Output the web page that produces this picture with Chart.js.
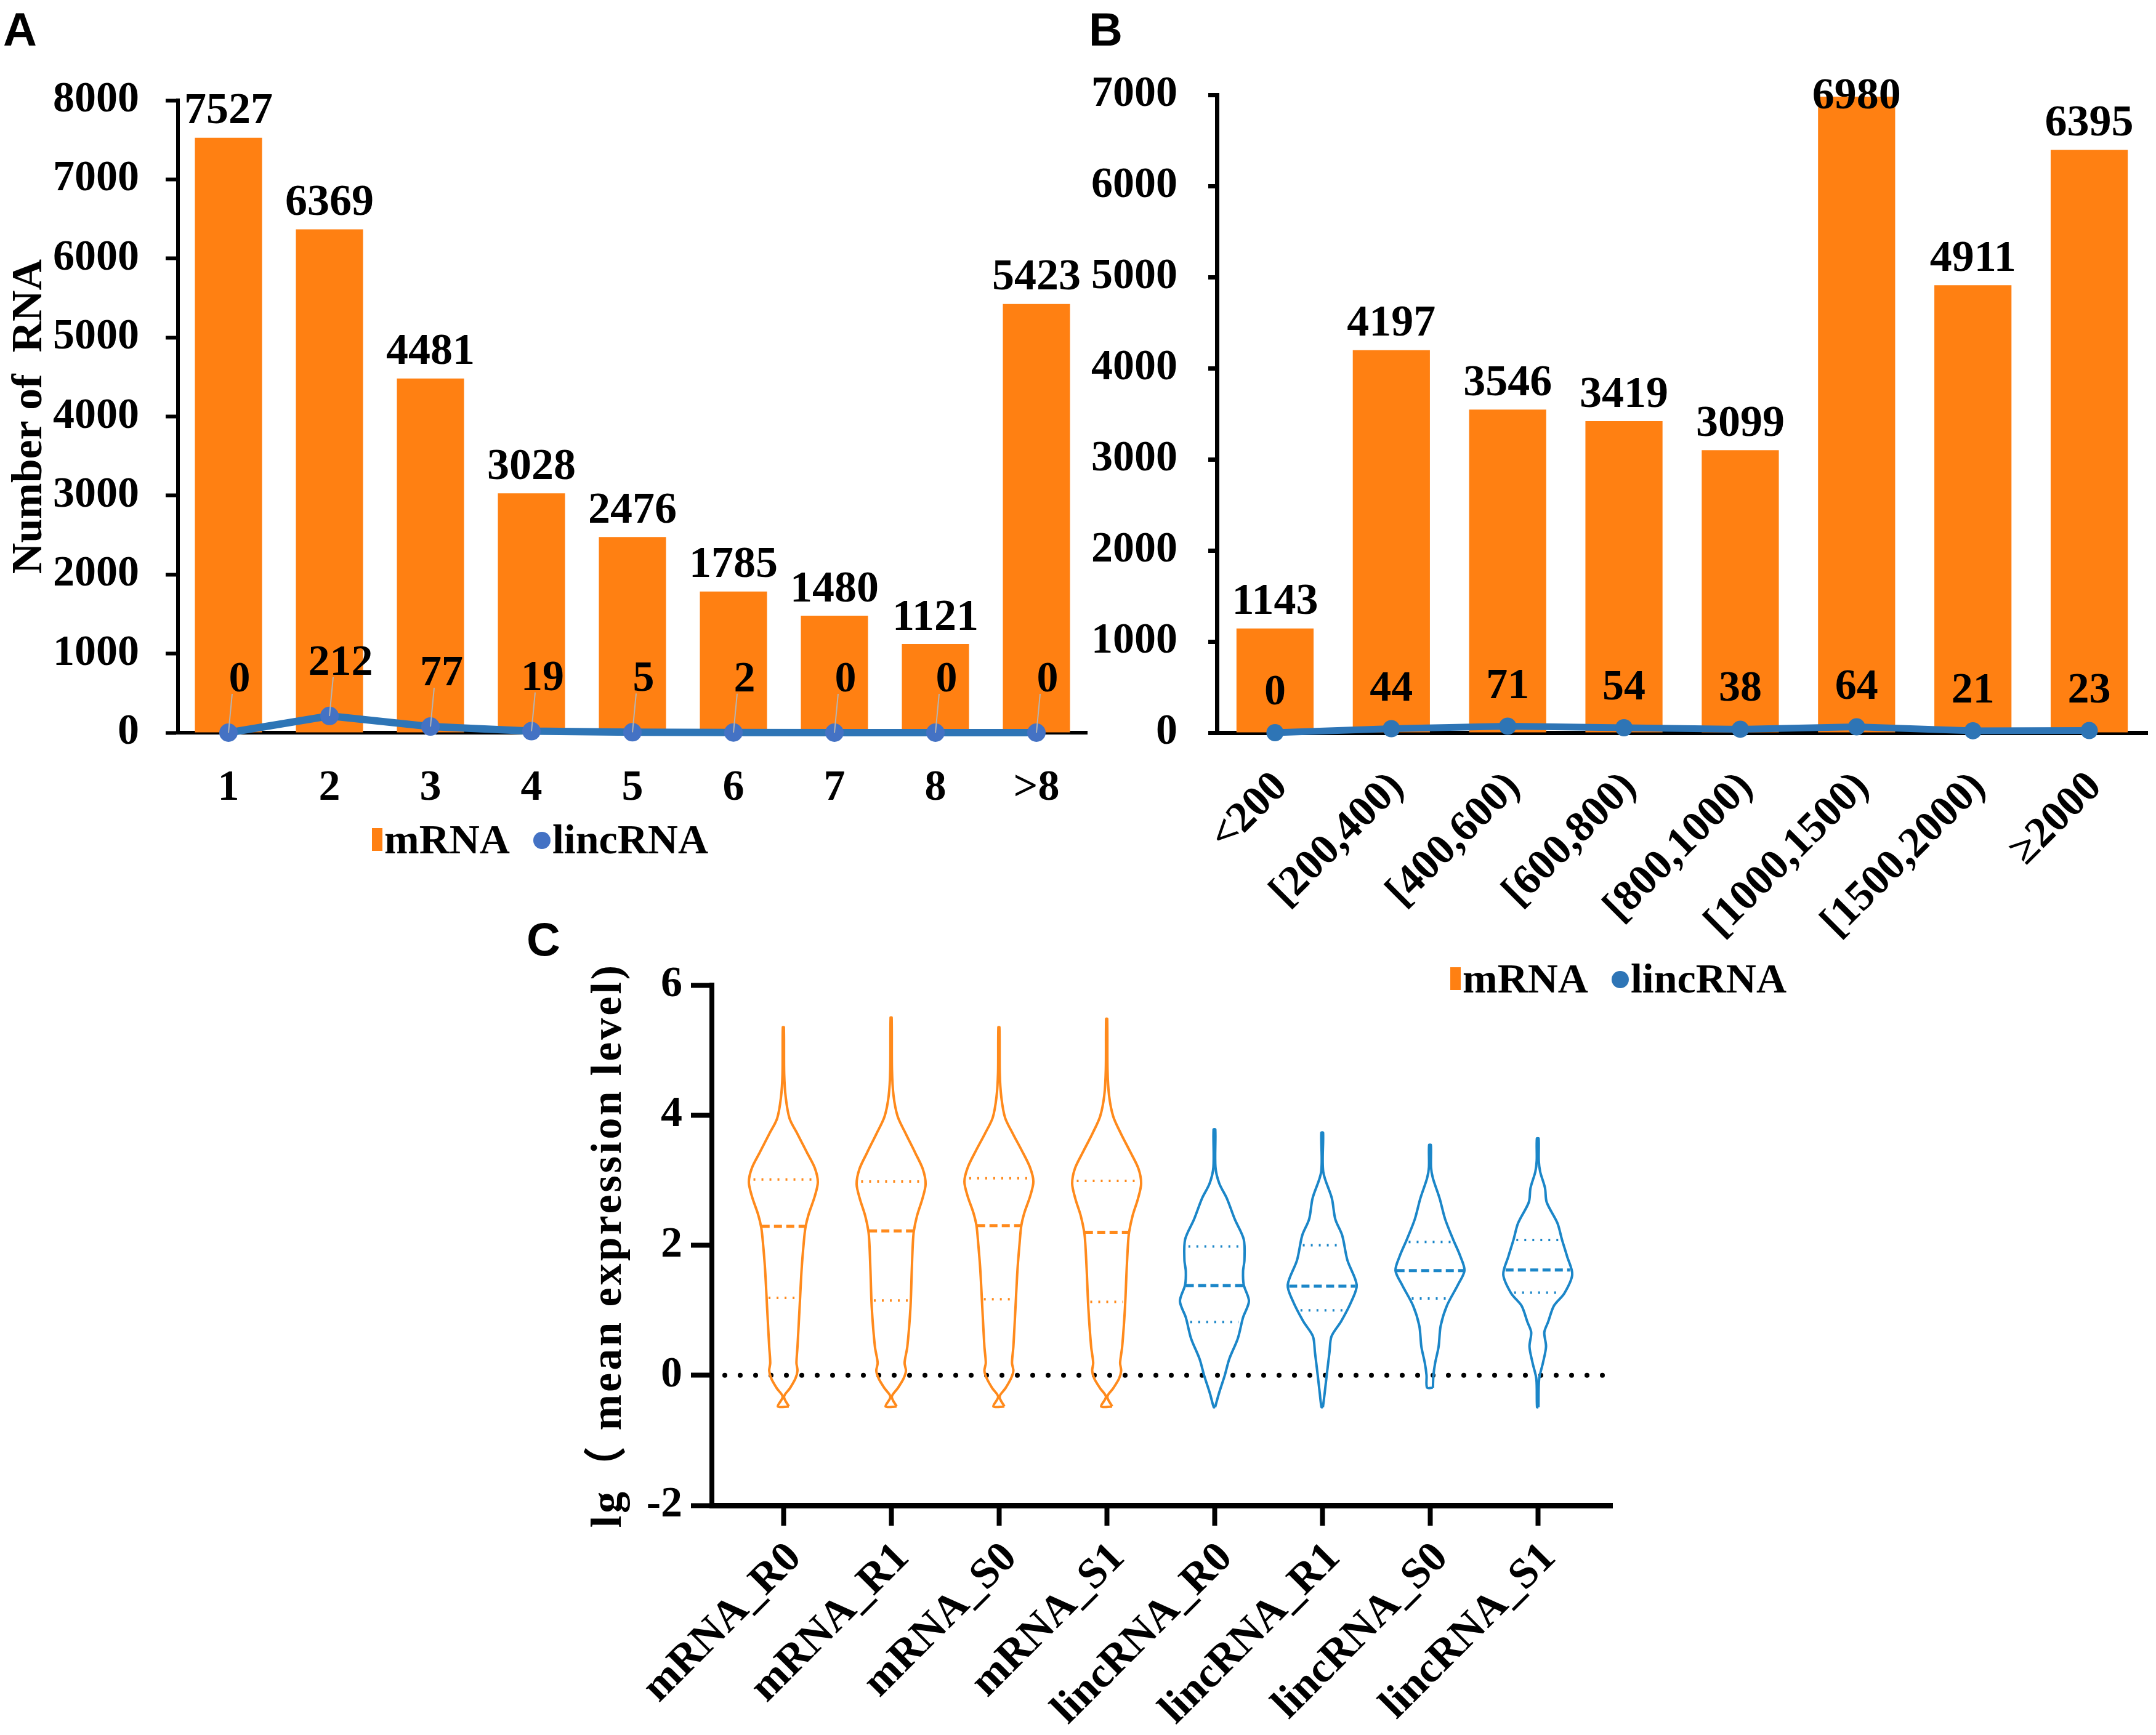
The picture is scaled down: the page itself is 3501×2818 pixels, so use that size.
<!DOCTYPE html>
<html>
<head>
<meta charset="utf-8">
<title>mRNA / lincRNA figure</title>
<script src="https://cdn.jsdelivr.net/npm/chart.js@4.4.1/dist/chart.umd.min.js"></script>
<style>
  html, body { margin: 0; padding: 0; background: #fff; }
  body { width: 3501px; height: 2818px; position: relative; overflow: hidden; }
  canvas { position: absolute; }
  #chartA { left: 0; top: 0; }
  #chartB { left: 1730px; top: 0; }
  #chartC { left: 850px; top: 1460px; }
</style>
</head>
<body>
<canvas id="chartA" width="1790" height="1440"></canvas>
<canvas id="chartB" width="1771" height="1700"></canvas>
<canvas id="chartC" width="1850" height="1358"></canvas>
<script>
// ---------- data ----------
// A: exon number
const exonLabels = ['1', '2', '3', '4', '5', '6', '7', '8', '>8'];
const exonMRNA = [7527, 6369, 4481, 3028, 2476, 1785, 1480, 1121, 5423];
const exonLincRNA = [0, 212, 77, 19, 5, 2, 0, 0, 0];
const exonTicks = [0, 1000, 2000, 3000, 4000, 5000, 6000, 7000, 8000];

// B: transcript length
const lengthLabels = ['<200', '[200,400)', '[400,600)', '[600,800)', '[800,1000)', '[1000,1500)', '[1500,2000)', '≥2000'];
const lengthMRNA = [1143, 4197, 3546, 3419, 3099, 6980, 4911, 6395];
const lengthLincRNA = [0, 44, 71, 54, 38, 64, 21, 23];
const lengthTicks = [0, 1000, 2000, 3000, 4000, 5000, 6000, 7000];

// C: expression violins (density relative to the widest point of each violin)
const violinNames = ['mRNA_R0', 'mRNA_R1', 'mRNA_S0', 'mRNA_S1', 'lincRNA_R0', 'lincRNA_R1', 'lincRNA_S0', 'lincRNA_S1'];
const violinLevels = [
  [-0.48, -0.33, -0.20, -0.05, 0.07, 0.19, 0.44, 1.03, 1.63, 2.03, 2.27, 2.47, 2.75, 2.97, 3.19, 3.43, 3.71, 3.95, 4.27, 4.63, 5.35],
  [-0.48, -0.33, -0.20, -0.05, 0.07, 0.19, 0.44, 1.03, 1.63, 2.03, 2.22, 2.45, 2.72, 2.94, 3.17, 3.42, 3.72, 3.98, 4.30, 4.70, 5.50],
  [-0.48, -0.33, -0.20, -0.05, 0.07, 0.19, 0.44, 1.03, 1.63, 2.03, 2.30, 2.50, 2.76, 2.98, 3.20, 3.45, 3.72, 3.96, 4.28, 4.65, 5.35],
  [-0.48, -0.33, -0.20, -0.05, 0.07, 0.19, 0.44, 1.03, 1.63, 2.03, 2.20, 2.45, 2.72, 2.95, 3.18, 3.43, 3.72, 3.98, 4.30, 4.70, 5.48],
  [-0.49, -0.28, 0.00, 0.25, 0.57, 0.89, 1.14, 1.39, 1.60, 1.77, 2.09, 2.40, 2.72, 2.95, 3.20, 3.78],
  [-0.49, -0.28, 0.00, 0.35, 0.60, 0.83, 1.14, 1.39, 1.77, 2.15, 2.40, 2.72, 3.13, 3.73],
  [-0.19, 0.00, 0.19, 0.44, 0.76, 1.07, 1.39, 1.61, 1.83, 2.09, 2.40, 2.72, 3.03, 3.20, 3.54],
  [-0.49, -0.06, 0.19, 0.44, 0.66, 0.82, 1.07, 1.26, 1.55, 1.83, 2.09, 2.34, 2.66, 2.88, 3.13, 3.30, 3.64]
];
const violinDensity = [
  [0.16, 0.02, 0.19, 0.35, 0.41, 0.38, 0.41, 0.47, 0.53, 0.59, 0.64, 0.73, 0.91, 1.00, 0.91, 0.68, 0.41, 0.18, 0.07, 0.025, 0.015],
  [0.16, 0.02, 0.19, 0.36, 0.43, 0.39, 0.47, 0.56, 0.60, 0.63, 0.66, 0.75, 0.91, 1.00, 0.92, 0.70, 0.42, 0.19, 0.07, 0.025, 0.015],
  [0.16, 0.02, 0.19, 0.35, 0.42, 0.38, 0.42, 0.48, 0.54, 0.60, 0.65, 0.74, 0.91, 1.00, 0.90, 0.67, 0.40, 0.18, 0.07, 0.025, 0.015],
  [0.16, 0.02, 0.19, 0.36, 0.42, 0.39, 0.45, 0.53, 0.58, 0.62, 0.65, 0.75, 0.91, 1.00, 0.92, 0.69, 0.41, 0.19, 0.07, 0.025, 0.015],
  [0.02, 0.13, 0.30, 0.43, 0.68, 0.83, 1.00, 0.85, 0.83, 0.87, 0.85, 0.59, 0.36, 0.14, 0.03, 0.025],
  [0.02, 0.07, 0.13, 0.21, 0.27, 0.55, 0.85, 1.00, 0.73, 0.58, 0.38, 0.28, 0.03, 0.025],
  [0.085, 0.10, 0.15, 0.25, 0.31, 0.49, 0.81, 1.00, 0.88, 0.67, 0.44, 0.28, 0.085, 0.03, 0.025],
  [0.02, 0.04, 0.15, 0.24, 0.19, 0.30, 0.47, 0.77, 1.00, 0.85, 0.70, 0.57, 0.26, 0.21, 0.07, 0.03, 0.025]
];
const violinQ1 = [1.19, 1.15, 1.17, 1.13, 0.82, 1.00, 1.18, 1.27];
const violinMedian = [2.29, 2.22, 2.30, 2.20, 1.38, 1.37, 1.61, 1.62];
const violinQ3 = [3.01, 2.98, 3.03, 2.99, 1.98, 2.00, 2.05, 2.08];
const exprTicks = [-2, 0, 2, 4, 6];
const exprReference = 0;

// ---------- styles ----------
const ORANGE = '#FF8012';
const LINE_BLUE = '#2E75B6';
const MARK_BLUE = '#4472C4';
const V_ORANGE = '#FF8A1C';
const V_BLUE = '#1B86C8';
const SERIF = '"Liberation Serif", "Times New Roman", serif';
const BOLD70 = { family: SERIF, size: 70, weight: 'bold' };

Chart.defaults.font.family = SERIF;
Chart.defaults.font.weight = 'bold';
Chart.defaults.color = '#000';
Chart.defaults.animation = false;
Chart.defaults.plugins.legend.display = false;
Chart.defaults.plugins.tooltip.enabled = false;

// value labels above bars and line points
const valueLabels = {
  id: 'valueLabels',
  afterDatasetsDraw(chart) {
    const ctx = chart.ctx;
    const area = chart.chartArea;
    chart.data.datasets.forEach((ds, di) => {
      const cfg = ds.valueLabel;
      if (!cfg) return;
      const meta = chart.getDatasetMeta(di);
      ctx.save();
      ctx.font = 'bold ' + cfg.size + 'px ' + SERIF;
      ctx.fillStyle = '#000';
      ctx.textAlign = 'center';
      ctx.textBaseline = 'middle';
      meta.data.forEach((el, i) => {
        const x = el.x + cfg.dx;
        let y = el.y + cfg.dy;
        if (cfg.clampTop) y = Math.max(y, area.top + 3);
        if (cfg.leader) {
          ctx.strokeStyle = '#b4b4b4';
          ctx.lineWidth = 2;
          ctx.beginPath();
          ctx.moveTo(el.x, el.y);
          ctx.lineTo(x - 12, y + 22);
          ctx.stroke();
        }
        ctx.fillText(String(ds.data[i]), x, y);
      });
      ctx.restore();
    });
  }
};

// panel letter, legend and free titles
const figureDecor = {
  id: 'figureDecor',
  afterDraw(chart, args, opts) {
    const ctx = chart.ctx;
    ctx.save();
    if (opts.letter) {
      ctx.font = 'bold 76px "Liberation Sans", Arial, sans-serif';
      ctx.fillStyle = '#000';
      ctx.textBaseline = 'alphabetic';
      ctx.fillText(opts.letter.text, opts.letter.x, opts.letter.y);
    }
    if (opts.legend) {
      const lg = opts.legend;
      let x = lg.x;
      ctx.font = 'bold 68px ' + SERIF;
      ctx.textBaseline = 'alphabetic';
      lg.items.forEach((it) => {
        ctx.fillStyle = it.color;
        if (it.shape === 'bar') {
          ctx.fillRect(x, lg.y - 41, 17, 37);
          x += 20;
        } else {
          ctx.beginPath();
          ctx.arc(x + 14, lg.y - 21, 14, 0, Math.PI * 2);
          ctx.fill();
          x += 31;
        }
        ctx.fillStyle = '#000';
        ctx.fillText(it.text, x, lg.y);
        x += ctx.measureText(it.text).width + 38;
      });
    }
    if (opts.yTitle) {
      const t = opts.yTitle;
      const area = chart.chartArea;
      ctx.translate(t.x, (area.top + area.bottom) / 2);
      ctx.rotate(-Math.PI / 2);
      ctx.font = 'bold 70px ' + SERIF + ', "Noto Sans CJK SC"';
      ctx.letterSpacing = t.spacing;
      ctx.fillStyle = '#000';
      ctx.textAlign = 'center';
      ctx.textBaseline = 'middle';
      ctx.fillText(t.text, 0, 0);
    }
    ctx.restore();
  }
};

function tickList(values) {
  return (scale) => { scale.ticks = values.map((v) => ({ value: v })); };
}
const plainNumber = (v) => String(v);

// ---------- A ----------
new Chart(document.getElementById('chartA'), {
  type: 'bar',
  data: {
    labels: exonLabels,
    datasets: [
      {
        type: 'line', label: 'lincRNA', data: exonLincRNA, order: 1,
        borderColor: LINE_BLUE, borderWidth: 12, tension: 0,
        pointRadius: 15, pointBackgroundColor: MARK_BLUE, pointBorderWidth: 0,
        clip: false,
        valueLabel: { size: 70, dx: 18, dy: -85, leader: true }
      },
      {
        label: 'mRNA', data: exonMRNA, order: 2, backgroundColor: ORANGE,
        barPercentage: 0.665, categoryPercentage: 1,
        valueLabel: { size: 72, dx: 0, dy: -42 }
      }
    ]
  },
  options: {
    responsive: false,
    layout: { padding: { top: 163, right: 25, left: 0, bottom: 0 } },
    scales: {
      x: {
        ticks: { font: BOLD70, padding: 41 },
        grid: { display: false },
        border: { display: true, color: '#000', width: 6 },
        afterFit: (s) => { s.height = 250; }
      },
      y: {
        min: exonTicks[0], max: exonTicks[exonTicks.length - 1],
        afterBuildTicks: tickList(exonTicks),
        ticks: { font: BOLD70, padding: 43, callback: plainNumber },
        grid: { drawOnChartArea: false, tickLength: 20, tickWidth: 6, color: '#000' },
        border: { display: true, color: '#000', width: 6 },
        title: { display: true, text: 'Number of  RNA', font: BOLD70, padding: { top: 7, bottom: 0 } },
        afterFit: (s) => { s.width = 289; }
      }
    },
    plugins: {
      figureDecor: {
        letter: { text: 'A', x: 5, y: 74 },
        legend: { x: 604, y: 1386, items: [
          { text: 'mRNA', color: ORANGE, shape: 'bar' },
          { text: 'lincRNA', color: MARK_BLUE, shape: 'dot' }
        ] }
      }
    }
  },
  plugins: [valueLabels, figureDecor]
});

// ---------- B ----------
const lengthMinor = [];
lengthTicks.forEach((v, i) => {
  lengthMinor.push(v);
  if (i < lengthTicks.length - 1) lengthMinor.push((v + lengthTicks[i + 1]) / 2);
});

new Chart(document.getElementById('chartB'), {
  type: 'bar',
  data: {
    labels: lengthLabels,
    datasets: [
      {
        type: 'line', label: 'lincRNA', data: lengthLincRNA, order: 1,
        borderColor: LINE_BLUE, borderWidth: 11, tension: 0,
        pointRadius: 14, pointBackgroundColor: LINE_BLUE, pointBorderWidth: 0,
        clip: false,
        valueLabel: { size: 70, dx: 0, dy: -64 }
      },
      {
        label: 'mRNA', data: lengthMRNA, order: 2, backgroundColor: ORANGE,
        barPercentage: 0.663, categoryPercentage: 1,
        valueLabel: { size: 72, dx: 0, dy: -42, clampTop: true }
      }
    ]
  },
  options: {
    responsive: false,
    layout: { padding: { top: 154, right: 5, left: 0, bottom: 0 } },
    scales: {
      x: {
        ticks: { font: BOLD70, padding: 40, labelOffset: 10, minRotation: 45, maxRotation: 45, autoSkip: false },
        grid: { display: false },
        border: { display: true, color: '#000', width: 7 },
        afterFit: (s) => { s.height = 510; }
      },
      y: {
        min: lengthTicks[0], max: lengthTicks[lengthTicks.length - 1],
        afterBuildTicks: tickList(lengthMinor),
        ticks: { font: BOLD70, padding: 50, callback: (v) => (lengthTicks.includes(v) ? String(v) : '') },
        grid: { drawOnChartArea: false, tickLength: 14, tickWidth: 7, color: '#000' },
        border: { display: true, color: '#000', width: 7 },
        afterFit: (s) => { s.width = 246; }
      }
    },
    plugins: {
      figureDecor: {
        letter: { text: 'B', x: 38, y: 74 },
        legend: { x: 625, y: 1612, items: [
          { text: 'mRNA', color: ORANGE, shape: 'bar' },
          { text: 'lincRNA', color: LINE_BLUE, shape: 'dot' }
        ] }
      }
    }
  },
  plugins: [valueLabels, figureDecor]
});

// ---------- C ----------
const MAX_HALF = 0.32;        // half width of the widest point, in category units
const X_MIN_C = -0.663;
const X_MAX_C = 7.691;

function densityAt(levels, dens, v) {
  if (v <= levels[0]) return dens[0];
  for (let k = 1; k < levels.length; k++) {
    if (v <= levels[k]) {
      const t = (v - levels[k - 1]) / (levels[k] - levels[k - 1]);
      return dens[k - 1] + t * (dens[k] - dens[k - 1]);
    }
  }
  return dens[dens.length - 1];
}

const violinSets = [];
violinNames.forEach((name, i) => {
  const color = name.indexOf('mRNA') === 0 ? V_ORANGE : V_BLUE;
  const lv = violinLevels[i];
  const dn = violinDensity[i];
  const right = lv.map((v, k) => ({ x: i + dn[k] * MAX_HALF, y: v }));
  const left = lv.map((v, k) => ({ x: i - dn[k] * MAX_HALF, y: v })).reverse();
  const outline = right.concat(left, [right[0]]);
  violinSets.push({
    data: outline, showLine: true, borderColor: color, borderWidth: 4,
    pointRadius: 0, tension: 0.3, fill: false
  });
  const marks = [
    { v: violinQ1[i], dash: [3, 10], width: 4, share: 0.88 },
    { v: violinMedian[i], dash: [13, 7], width: 5, share: 0.97 },
    { v: violinQ3[i], dash: [3, 10], width: 4, share: 0.88 }
  ];
  marks.forEach((m) => {
    const hw = densityAt(lv, dn, m.v) * MAX_HALF * m.share;
    violinSets.push({
      data: [{ x: i - hw, y: m.v }, { x: i + hw, y: m.v }],
      showLine: true, borderColor: color, borderWidth: m.width, borderDash: m.dash,
      pointRadius: 0, fill: false
    });
  });
});
violinSets.push({
  data: [{ x: X_MIN_C + 0.12, y: exprReference }, { x: X_MAX_C - 0.07, y: exprReference }],
  showLine: true, borderColor: '#000', borderWidth: 8, borderDash: [0, 25],
  borderCapStyle: 'round', pointRadius: 0, fill: false
});

new Chart(document.getElementById('chartC'), {
  type: 'scatter',
  data: { datasets: violinSets },
  options: {
    responsive: false,
    layout: { padding: { top: 140, right: 82, left: 0, bottom: 0 } },
    scales: {
      x: {
        type: 'linear', min: X_MIN_C, max: X_MAX_C,
        afterBuildTicks: tickList(violinNames.map((n, i) => i)),
        ticks: { font: BOLD70, padding: 12, labelOffset: 19, minRotation: 45, maxRotation: 45, autoSkip: false,
                 callback: (v) => (violinNames[v] !== undefined ? violinNames[v] : '') },
        grid: { drawOnChartArea: false, tickLength: 33, tickWidth: 8, color: '#000' },
        border: { display: true, color: '#000', width: 9 },
        afterFit: (s) => { s.height = 373; }
      },
      y: {
        min: exprTicks[0], max: exprTicks[exprTicks.length - 1],
        afterBuildTicks: tickList(exprTicks),
        ticks: { font: BOLD70, padding: 14, callback: plainNumber },
        grid: { drawOnChartArea: false, tickLength: 34, tickWidth: 8, color: '#000' },
        border: { display: true, color: '#000', width: 8 },
        afterFit: (s) => { s.width = 306; }
      }
    },
    plugins: {
      figureDecor: {
        letter: { text: 'C', x: 5, y: 92 },
        yTitle: { text: 'lg（ mean expression level)', x: 140, spacing: '4px' }
      }
    }
  },
  plugins: [figureDecor]
});
</script>
</body>
</html>
